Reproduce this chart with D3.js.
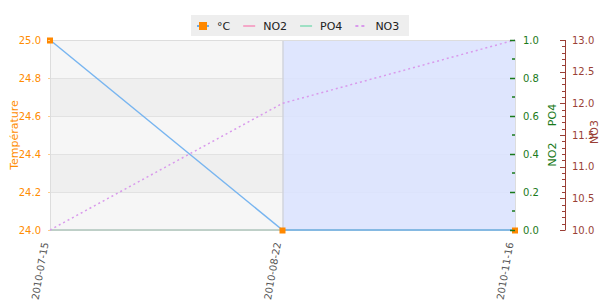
<!DOCTYPE html>
<html>
<head>
<meta charset="utf-8">
<script src="https://cdn.jsdelivr.net/npm/d3@7"></script>
<style>
  body { margin: 0; background: #fff; }
  svg { font-family: 'DejaVu Sans', sans-serif; }
</style>
</head>
<body>
<div id="chart"></div>
<script>
let dates = ['2010-07-15', '2010-08-22', '2010-11-16']
let temperature = [25.0, 24.0, 24.0]
let no2 = [0, 0, 0]
let po4 = [0, 0, 0]
let no3 = [10.0, 12.0, 13.0]
let tempTicks = [24.0, 24.2, 24.4, 24.6, 24.8, 25.0]
let legendItems = ['°C', 'NO2', 'PO4', 'NO3']
// the blue zone starts at this date
let highlightFrom = '2010-08-22'

let margin = { top: 40, left: 50, right: 85, bottom: 70 }
let width = 600 - margin.left - margin.right
let height = 300 - margin.top - margin.bottom

let orange = '#ff8c00'
let green = '#1a7a1a'
let brown = '#9a3f36'

let svg = d3.select('#chart')
  .append('svg')
  .attr('width', 600)
  .attr('height', 300)

let g = svg.append('g')
  .attr('transform', `translate(${margin.left},${margin.top})`)

let xScale = d3.scalePoint().domain(dates).range([0, width]).padding(0)
let yTemp = d3.scaleLinear().domain([24, 25]).range([height, 0])
let yNut = d3.scaleLinear().domain([0, 1]).range([height, 0])
let yNo3 = d3.scaleLinear().domain([10, 13]).range([height, 0])

// alternating bands
let bands = d3.pairs(tempTicks)
g.selectAll('.band')
  .data(bands)
  .enter()
  .append('rect')
  .attr('x', 0)
  .attr('width', width)
  .attr('y', d => yTemp(d[1]))
  .attr('height', d => yTemp(d[0]) - yTemp(d[1]))
  .attr('fill', (d, i) => (i % 2 === 0 ? '#f6f6f6' : '#efefef'))

g.selectAll('.grid')
  .data(tempTicks)
  .enter()
  .append('line')
  .attr('x1', 0)
  .attr('x2', width)
  .attr('y1', d => Math.round(yTemp(d)) + 0.5)
  .attr('y2', d => Math.round(yTemp(d)) + 0.5)
  .attr('stroke', '#e2e2e2')

// blue zone
g.append('rect')
  .attr('x', xScale(highlightFrom))
  .attr('y', 0)
  .attr('width', width - xScale(highlightFrom))
  .attr('height', height)
  .attr('fill', '#dae3ff')
  .attr('opacity', 0.85)

g.append('line')
  .attr('x1', xScale(highlightFrom) + 0.5)
  .attr('x2', xScale(highlightFrom) + 0.5)
  .attr('y1', 0)
  .attr('y2', height)
  .attr('stroke', '#cccccc')

// plot frame
g.append('rect')
  .attr('x', 0.5)
  .attr('y', 0.5)
  .attr('width', width)
  .attr('height', height)
  .attr('fill', 'none')
  .attr('stroke', '#dddddd')

// lines
let mk = (scale, values) => d3.line()
  .x((d, i) => xScale(dates[i]))
  .y(d => scale(d))(values)

g.append('path').attr('d', mk(yNut, no2))
  .attr('fill', 'none').attr('stroke', '#f4a8c8').attr('stroke-width', 1.5)
g.append('path').attr('d', mk(yNut, po4))
  .attr('fill', 'none').attr('stroke', '#9ee0c4').attr('stroke-width', 1.5).attr('opacity', 0.8)
g.append('path').attr('d', mk(yTemp, temperature))
  .attr('fill', 'none').attr('stroke', '#6aaef0').attr('stroke-width', 1.5).attr('opacity', 0.9)
g.append('path').attr('d', mk(yNo3, no3))
  .attr('fill', 'none').attr('stroke', '#d99aec').attr('stroke-width', 1.5)
  .attr('stroke-dasharray', '2,3')

g.selectAll('.marker')
  .data(temperature)
  .enter()
  .append('rect')
  .attr('x', (d, i) => xScale(dates[i]) - 3)
  .attr('y', d => yTemp(d) - 2.5)
  .attr('width', 6)
  .attr('height', 6)
  .attr('fill', '#ff8800')

// left axis
let leftAxis = g.append('g')
  .call(d3.axisLeft(yTemp).tickValues(tempTicks).tickFormat(d3.format('.1f')).tickSize(2).tickPadding(7))
leftAxis.select('.domain').remove()
leftAxis.selectAll('line').attr('stroke', '#ffcc88')
leftAxis.selectAll('text').attr('fill', orange).attr('font-size', 10).attr('font-family', 'DejaVu Sans')

g.append('text')
  .text('Température')
  .attr('transform', `translate(${-32},${height / 2}) rotate(-90)`)
  .attr('text-anchor', 'middle')
  .attr('font-size', 11)
  .attr('fill', orange)

// right axis NO2 / PO4
let nutAxis = g.append('g')
  .attr('transform', `translate(${width},0)`)
  .call(d3.axisRight(yNut).ticks(5).tickFormat(d3.format('.1f')).tickSize(-5).tickPadding(8))
nutAxis.select('.domain').remove()
nutAxis.selectAll('line').attr('stroke', green).attr('stroke-width', 1.5)
nutAxis.selectAll('text').attr('fill', green).attr('font-size', 10).attr('font-family', 'DejaVu Sans')
nutAxis.append('g')
  .selectAll('line')
  .data(d3.range(0.1, 1, 0.2))
  .enter()
  .append('line')
  .attr('x1', -3)
  .attr('x2', 0)
  .attr('y1', d => yNut(d))
  .attr('y2', d => yNut(d))
  .attr('stroke', green)
  .attr('stroke-width', 1.5)

// two words, spread apart like the original
g.selectAll('.nut-title')
  .data(['NO2', 'PO4'])
  .enter()
  .append('text')
  .text(d => d)
  .attr('transform', (d, i) => `translate(${width + 41},${height / 2 + (i === 0 ? 19.5 : -20)}) rotate(-90)`)
  .attr('text-anchor', 'middle')
  .attr('font-size', 11)
  .attr('fill', green)

// right axis NO3
let no3Axis = g.append('g')
  .attr('transform', `translate(${width + 50},0)`)
  .call(d3.axisRight(yNo3).tickValues(d3.range(10, 13.01, 0.5)).tickFormat(d3.format('.1f')).tickSize(0).tickPadding(7))
no3Axis.select('.domain').attr('stroke', brown).attr('d', `M0.5,0V${height}`)
no3Axis.selectAll('text').attr('fill', brown).attr('font-size', 10).attr('font-family', 'DejaVu Sans')
no3Axis.append('g')
  .selectAll('line')
  .data(d3.range(0, 31).map(i => 10 + i * 0.1))
  .enter()
  .append('line')
  .attr('x1', (d, i) => (i % 5 === 0 ? -5 : -3))
  .attr('x2', 0.5)
  .attr('y1', d => Math.round(yNo3(d)) + 0.5)
  .attr('y2', d => Math.round(yNo3(d)) + 0.5)
  .attr('stroke', brown)

g.append('text')
  .text('NO3')
  .attr('transform', `translate(${width + 83},${height / 2 - 3}) rotate(-90)`)
  .attr('text-anchor', 'middle')
  .attr('font-size', 11)
  .attr('fill', brown)

// x axis labels
let xAxis = g.append('g')
  .attr('transform', `translate(0,${height})`)
  .call(d3.axisBottom(xScale).tickSize(0).tickPadding(0))
xAxis.select('.domain').remove()
xAxis.selectAll('text')
  .attr('transform', 'translate(-2,13) rotate(-80)')
  .attr('text-anchor', 'end')
  .attr('dy', 0)
  .attr('y', 0)
  .attr('x', 0)
  .attr('font-size', 10)
  .attr('font-family', 'DejaVu Sans')
  .attr('fill', '#555555')

// legend
let legend = svg.append('g').attr('transform', 'translate(191,15)')
legend.append('rect')
  .attr('width', 218)
  .attr('height', 21)
  .attr('fill', '#eeeeee')

let legendStyle = {
  '°C': { color: '#6aaef0', dash: null },
  NO2: { color: '#f4a8c8', dash: null },
  PO4: { color: '#9ee0c4', dash: null },
  NO3: { color: '#d99aec', dash: '3,3' }
}
let item = legend.selectAll('.item')
  .data(legendItems)
  .enter()
  .append('g')
item.append('line')
  .attr('x1', 0)
  .attr('x2', 12)
  .attr('stroke', d => legendStyle[d].color)
  .attr('stroke-width', 2)
  .attr('stroke-dasharray', d => legendStyle[d].dash)
item.filter(d => d === '°C')
  .append('rect')
  .attr('x', 2)
  .attr('y', -4)
  .attr('width', 8)
  .attr('height', 8)
  .attr('fill', '#ff8800')
item.append('text')
  .text(d => d)
  .attr('x', 20)
  .attr('y', 4)
  .attr('font-size', 11)
  .attr('fill', '#222')

// lay the items out one after another
let cursor = 6
item.each(function() {
  let w = d3.select(this).select('text').node().getComputedTextLength()
  d3.select(this).attr('transform', `translate(${cursor},11)`)
  cursor += 20 + w + 13
})
</script>
</body>
</html>
